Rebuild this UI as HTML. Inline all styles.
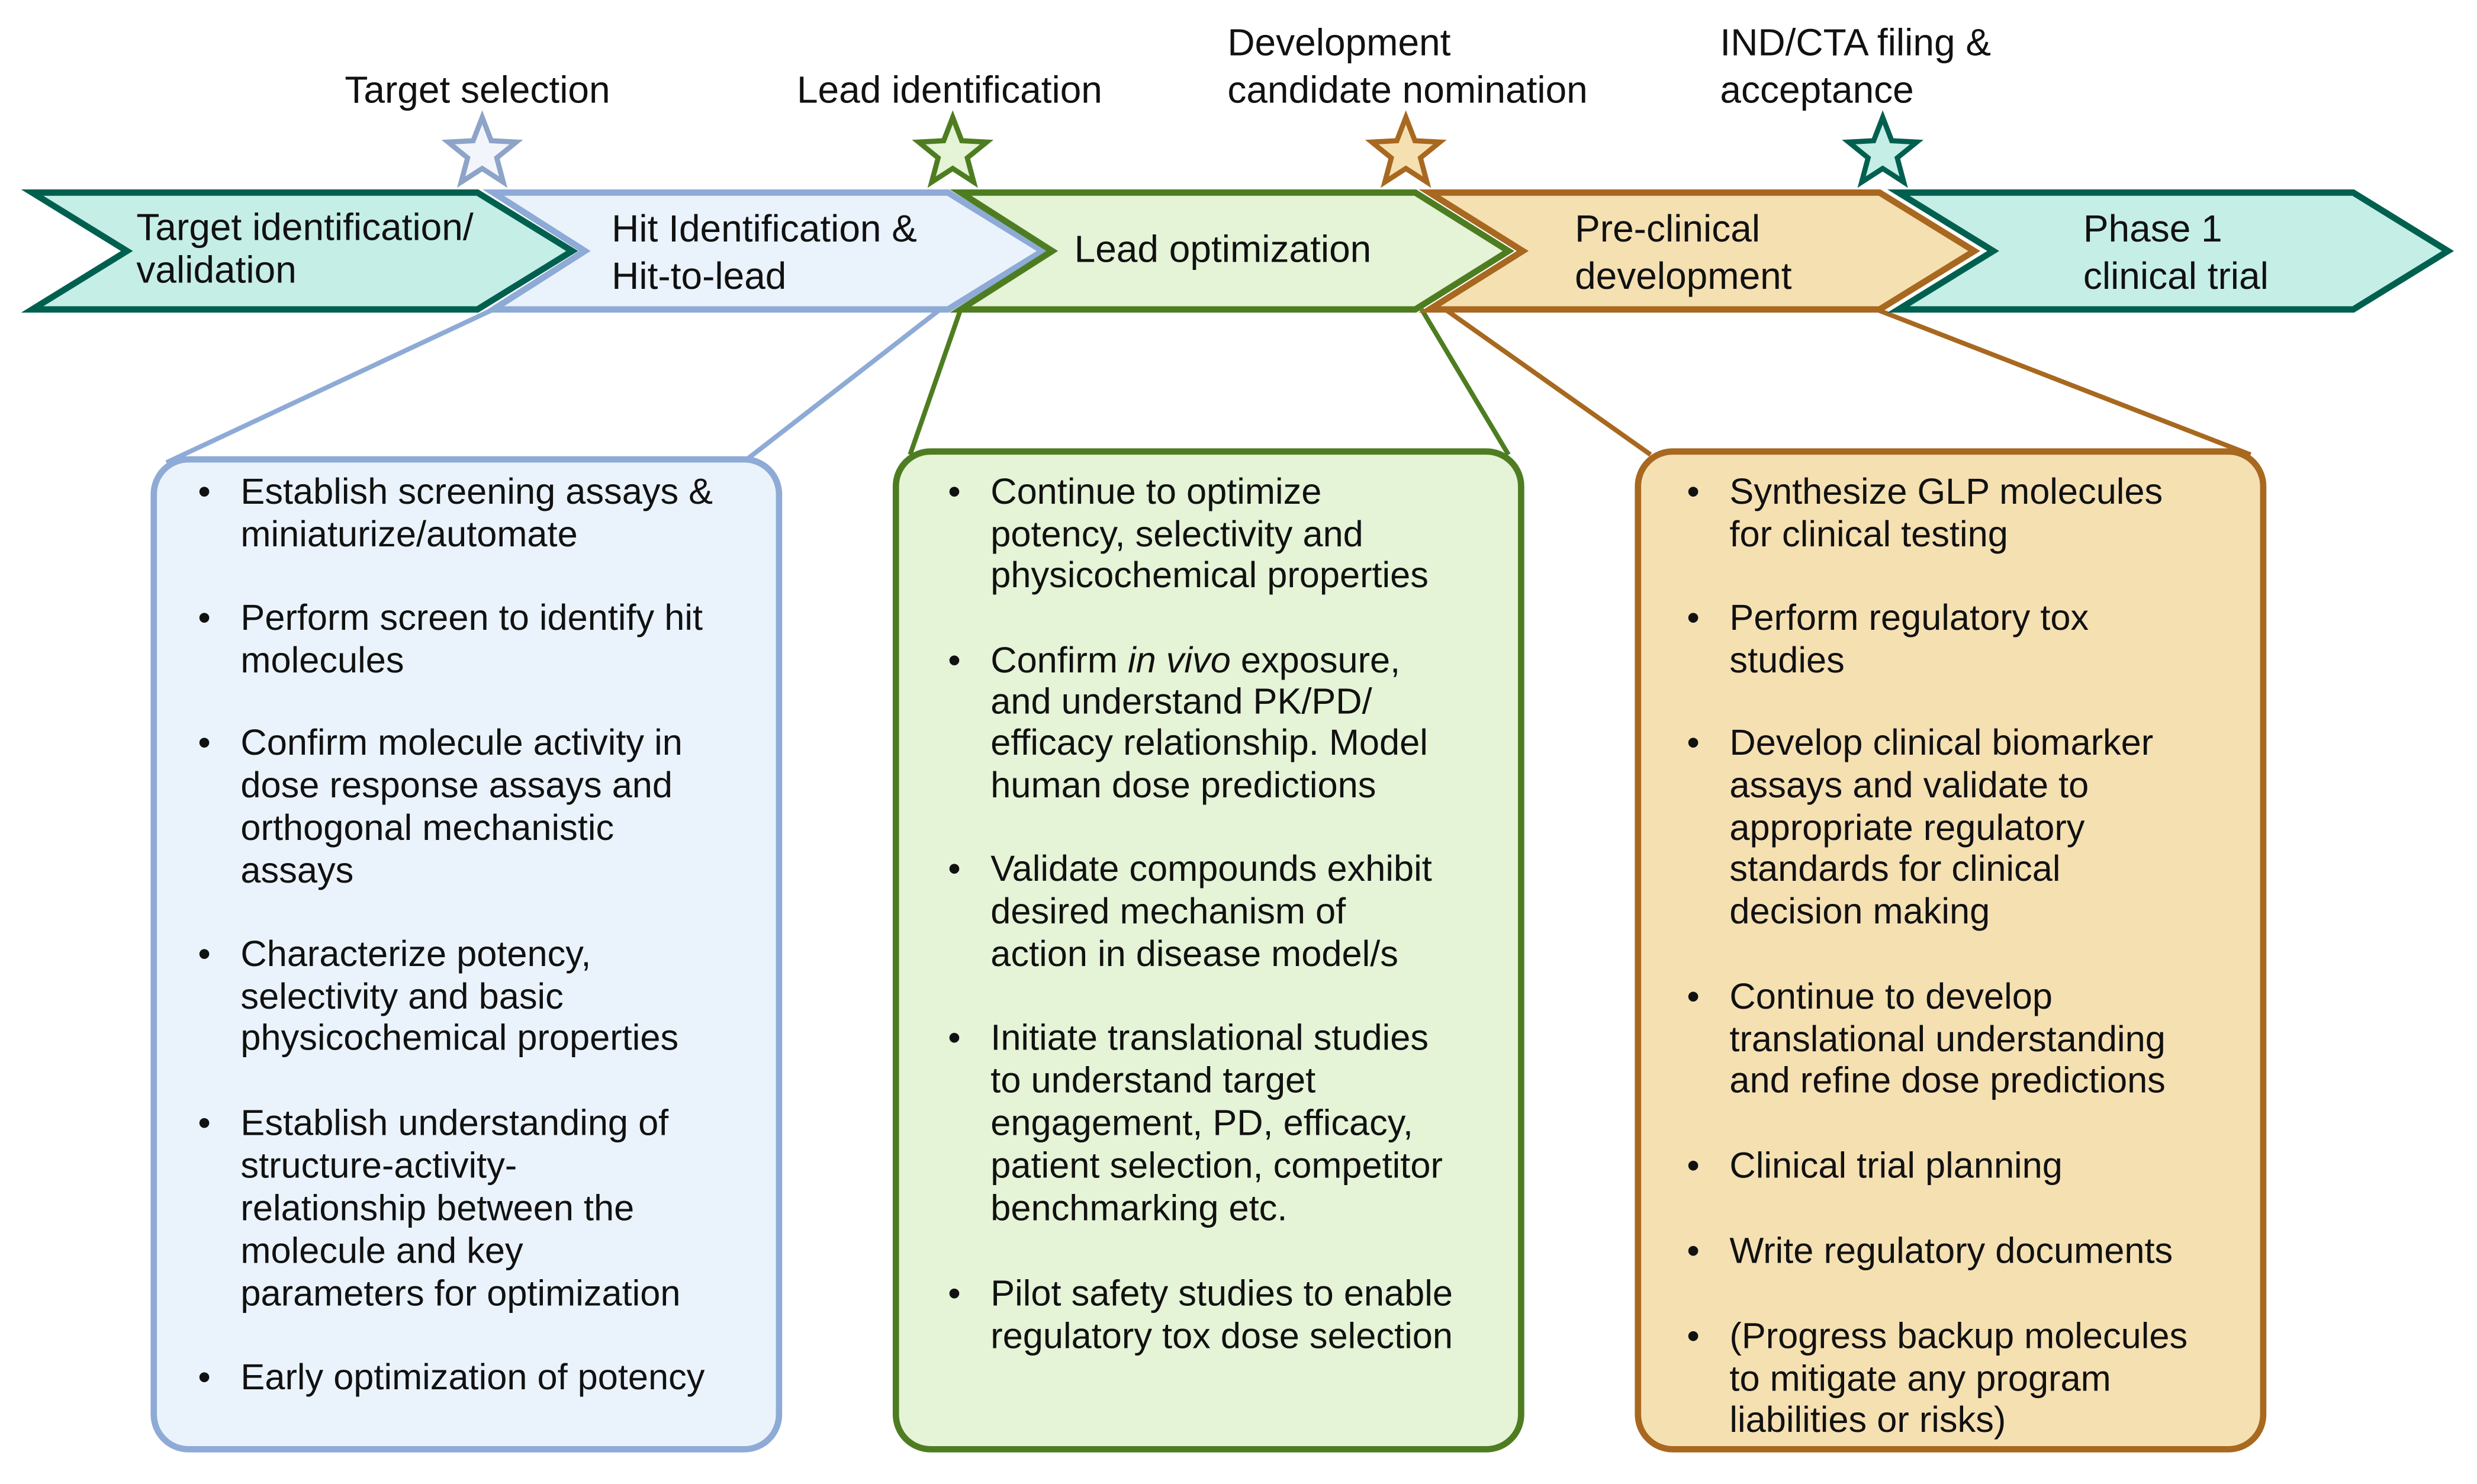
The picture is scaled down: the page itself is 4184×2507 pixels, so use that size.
<!DOCTYPE html>
<html><head><meta charset="utf-8"><style>
html,body{margin:0;padding:0;background:#fff;}
svg{display:block;}
text{font-family:"Liberation Sans",sans-serif;fill:#111;}
.t{font-size:24px;}
.b{font-size:23px;}
</style></head><body>
<svg width="4184" height="2507" viewBox="0 0 1568 940" xmlns="http://www.w3.org/2000/svg">
<defs>
<path id="star" d="M0,-21 L5.29,-7.28 L19.97,-6.49 L8.56,2.78 L12.34,16.99 L0,9 L-12.34,16.99 L-8.56,2.78 L-19.97,-6.49 L-5.29,-7.28 Z"/>
</defs>
<g stroke-width="3" fill="none">
<line x1="312" y1="196" x2="105" y2="293" stroke="#8eaad6"/>
<line x1="595" y1="196" x2="470" y2="293" stroke="#8eaad6"/>
<line x1="608" y1="196" x2="576" y2="288" stroke="#4e7d21"/>
<line x1="900" y1="196" x2="955" y2="288" stroke="#4e7d21"/>
<line x1="915" y1="196" x2="1045" y2="288" stroke="#a8681f"/>
<line x1="1188" y1="196" x2="1425" y2="288" stroke="#a8681f"/>
</g>
<g stroke-width="4" stroke-linejoin="miter">
<polygon points="20,122 302,122 362,159 302,196 20,196 80,159" fill="#c5eee7" stroke="#00604f"/>
<polygon points="312,122 600,122 660,159 600,196 312,196 370,159" fill="#eaf3fb" stroke="#8eaad6"/>
<polygon points="608,122 896,122 955,159 896,196 608,196 666,159" fill="#e5f3d6" stroke="#4e7d21"/>
<polygon points="905,122 1190,122 1250,159 1190,196 905,196 964,159" fill="#f5e0b2" stroke="#a8681f"/>
<polygon points="1202,122 1490,122 1550,159 1490,196 1202,196 1262,159" fill="#c5eee7" stroke="#00604f"/>
</g>
<g stroke-width="3" stroke-linejoin="miter">
<use href="#star" transform="translate(305,97) scale(1.08)" fill="#f2f6fc" stroke="#8ea3c8"/>
<use href="#star" transform="translate(603,97) scale(1.08)" fill="#e5f3d6" stroke="#4e7d21"/>
<use href="#star" transform="translate(890,97) scale(1.08)" fill="#f5e0b2" stroke="#a8681f"/>
<use href="#star" transform="translate(1192,97) scale(1.08)" fill="#c5eee7" stroke="#00604f"/>
</g>
<g class="t">
<text x="302" y="65" text-anchor="middle">Target selection</text>
<text x="601" y="65" text-anchor="middle">Lead identification</text>
<text x="777" y="35">Development</text>
<text x="777" y="65">candidate nomination</text>
<text x="1089" y="35">IND/CTA filing &amp;</text>
<text x="1089" y="65">acceptance</text>
</g>
<g class="t">
<text x="86" y="152">Target identification/</text>
<text x="86" y="179">validation</text>
<text x="387" y="153">Hit Identification &amp;</text>
<text x="387" y="183">Hit-to-lead</text>
<text x="680" y="166">Lead optimization</text>
<text x="997" y="153">Pre-clinical</text>
<text x="997" y="183">development</text>
<text x="1319" y="153">Phase 1</text>
<text x="1319" y="183">clinical trial</text>
</g>
<rect x="97" y="291" width="396" height="627" rx="22" fill="#eaf3fb" stroke="#8eaad6" stroke-width="4"/>
<rect x="567" y="286" width="396" height="632" rx="22" fill="#e5f3d6" stroke="#4e7d21" stroke-width="4"/>
<rect x="1037" y="286" width="396" height="632" rx="22" fill="#f5e0b2" stroke="#a8681f" stroke-width="4"/>
<g class="b">
<g><text x="125" y="319">•</text><text x="125" y="399">•</text><text x="125" y="478">•</text><text x="125" y="612">•</text><text x="125" y="719">•</text><text x="125" y="880">•</text></g>
<text x="152" y="319">Establish screening assays &amp;</text>
<text x="152" y="346">miniaturize/automate</text>
<text x="152" y="399">Perform screen to identify hit</text>
<text x="152" y="426">molecules</text>
<text x="152" y="478">Confirm molecule activity in</text>
<text x="152" y="505">dose response assays and</text>
<text x="152" y="532">orthogonal mechanistic</text>
<text x="152" y="559">assays</text>
<text x="152" y="612">Characterize potency,</text>
<text x="152" y="639">selectivity and basic</text>
<text x="152" y="665">physicochemical properties</text>
<text x="152" y="719">Establish understanding of</text>
<text x="152" y="746">structure-activity-</text>
<text x="152" y="773">relationship between the</text>
<text x="152" y="800">molecule and key</text>
<text x="152" y="827">parameters for optimization</text>
<text x="152" y="880">Early optimization of potency</text>
</g>
<g class="b">
<g><text x="600" y="319">•</text><text x="600" y="426">•</text><text x="600" y="558">•</text><text x="600" y="665">•</text><text x="600" y="827">•</text></g>
<text x="627" y="319">Continue to optimize</text>
<text x="627" y="346">potency, selectivity and</text>
<text x="627" y="372">physicochemical properties</text>
<text x="627" y="426">Confirm <tspan font-style="italic">in vivo</tspan> exposure,</text>
<text x="627" y="452">and understand PK/PD/</text>
<text x="627" y="478">efficacy relationship. Model</text>
<text x="627" y="505">human dose predictions</text>
<text x="627" y="558">Validate compounds exhibit</text>
<text x="627" y="585">desired mechanism of</text>
<text x="627" y="612">action in disease model/s</text>
<text x="627" y="665">Initiate translational studies</text>
<text x="627" y="692">to understand target</text>
<text x="627" y="719">engagement, PD, efficacy,</text>
<text x="627" y="746">patient selection, competitor</text>
<text x="627" y="773">benchmarking etc.</text>
<text x="627" y="827">Pilot safety studies to enable</text>
<text x="627" y="854">regulatory tox dose selection</text>
</g>
<g class="b">
<g><text x="1068" y="319">•</text><text x="1068" y="399">•</text><text x="1068" y="478">•</text><text x="1068" y="639">•</text><text x="1068" y="746">•</text><text x="1068" y="800">•</text><text x="1068" y="854">•</text></g>
<text x="1095" y="319">Synthesize GLP molecules</text>
<text x="1095" y="346">for clinical testing</text>
<text x="1095" y="399">Perform regulatory tox</text>
<text x="1095" y="426">studies</text>
<text x="1095" y="478">Develop clinical biomarker</text>
<text x="1095" y="505">assays and validate to</text>
<text x="1095" y="532">appropriate regulatory</text>
<text x="1095" y="558">standards for clinical</text>
<text x="1095" y="585">decision making</text>
<text x="1095" y="639">Continue to develop</text>
<text x="1095" y="666">translational understanding</text>
<text x="1095" y="692">and refine dose predictions</text>
<text x="1095" y="746">Clinical trial planning</text>
<text x="1095" y="800">Write regulatory documents</text>
<text x="1095" y="854">(Progress backup molecules</text>
<text x="1095" y="881">to mitigate any program</text>
<text x="1095" y="907">liabilities or risks)</text>
</g>
</svg>
</body></html>
